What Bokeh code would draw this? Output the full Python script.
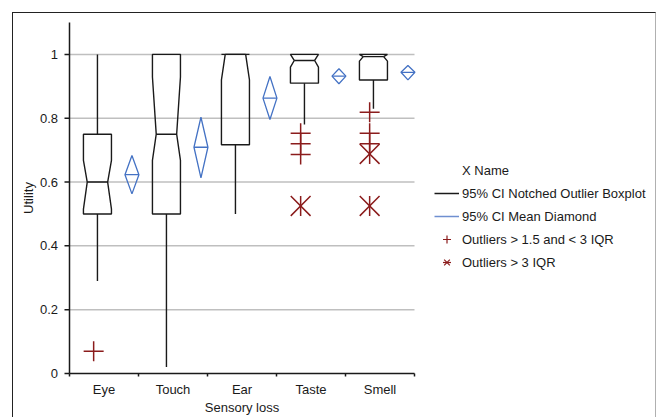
import math
from bokeh.plotting import figure
from bokeh.models import ColumnDataSource, Legend, LegendItem, Range1d
from bokeh.embed import file_html
from bokeh.resources import INLINE

# ---------------- data ----------------
categories = ["Eye", "Touch", "Ear", "Taste", "Smell"]
q1 = [0.50, 0.50, 0.717, 0.91, 0.92]
median = [0.60, 0.75, 1.00, 0.981, 0.993]
q3 = [0.75, 1.00, 1.00, 1.00, 1.00]
notch_lo = [0.515, 0.668, 0.92, 0.96, 0.979]
notch_hi = [0.668, 0.929, 1.00, 1.00, 1.00]
whisker_lo = [0.29, 0.02, 0.50, 0.78, 0.83]
whisker_hi = [1.00, 1.00, 1.00, 1.00, 1.00]
mean = [0.623, 0.709, 0.863, 0.932, 0.944]
ci_lo = [0.563, 0.613, 0.796, 0.908, 0.920]
ci_hi = [0.683, 0.803, 0.931, 0.955, 0.965]
mild_cat = ["Eye", "Taste", "Taste", "Taste", "Smell", "Smell", "Smell"]
mild_val = [0.07, 0.753, 0.72, 0.686, 0.819, 0.753, 0.72]
extreme_cat = ["Taste", "Smell", "Smell"]
extreme_val = [0.525, 0.688, 0.525]
y_ticks = [0, 0.2, 0.4, 0.6, 0.8, 1.0]
y_tick_labels = ["0", "0.2", "0.4", "0.6", "0.8", "1"]
y_max = 1.1
x_title = "Sensory loss"
y_title = "Utility"
legend_title = "X Name"
legend_labels = ["95% CI Notched Outlier Boxplot", "95% CI Mean Diamond",
                 "Outliers > 1.5 and < 3 IQR", "Outliers > 3 IQR"]

# ---------------- styles / positions ----------------
FONT = "Liberation Sans"
FS = "13px"
BOX_OFF = 0.405      # box centre inside each category slot
DIA_OFF = 0.905      # diamond centre inside each category slot
OUT_OFF = 0.35       # outlier marker centre
BOX_HW = 0.203
NOTCH_HW = 0.148
DIA_HW = 0.101
BLACK = "#1a1a1a"
BLUE = "#4472c4"
RED = "#8b1c1c"
GRID = "#bfbfbf"

# pixel geometry (canvas starts at 13,13 inside the page because of margin+border)
W, H = 644, 405
CANVAS_X0, CANVAS_Y0 = 13, 13
AX_LEFT, AX_RIGHT, AX_ZERO, AX_TOP = 69, 414, 373, 22   # page pixels
n = len(categories)
PX_X = (AX_RIGHT - AX_LEFT) / n
PX_Y = (AX_ZERO - AX_TOP) / y_max
x_start = -(AX_LEFT - CANVAS_X0) / PX_X
x_end = (CANVAS_X0 + W - AX_LEFT) / PX_X
y_start = -(CANVAS_Y0 + H - AX_ZERO) / PX_Y
y_end = (AX_ZERO - CANVAS_Y0) / PX_Y


def dx(px):
    return px / PX_X


def dy(px):
    return px / PX_Y


idx = {c: i for i, c in enumerate(categories)}

p = figure(width=W, height=H, output_backend="svg", toolbar_location=None,
           x_range=Range1d(x_start, x_end), y_range=Range1d(y_start, y_end),
           x_axis_type=None, y_axis_type=None,
           min_border=0)
p.margin = (12, 0, 0, 12)
p.styles = {"border-top": "1px solid #222222", "border-left": "1px solid #222222",
            "border-right": "1px solid #b0b0b0"}
p.outline_line_color = None
p.grid.visible = False
p.background_fill_color = "white"
p.border_fill_color = "white"

# ---------------- grid lines ----------------
gy = [t for t in y_ticks if t > 0]
p.segment([0] * len(gy), gy, [n] * len(gy), gy, line_color=GRID, line_width=1.5)

# ---------------- axes (drawn from tick lists) ----------------
p.segment([0], [0], [0], [y_max], line_color=BLACK, line_width=1.5)
p.segment([0], [0], [n], [0], line_color=BLACK, line_width=1.5)
p.segment([-dx(5)] * len(y_ticks), y_ticks, [0] * len(y_ticks), y_ticks,
          line_color=BLACK, line_width=1.5)
xb = list(range(n + 1))
p.segment(xb, [0] * len(xb), xb, [-dy(3)] * len(xb), line_color=BLACK, line_width=1.5)
p.text([-dx(11.5)] * len(y_ticks), y_ticks, text=y_tick_labels, text_align="right",
       text_baseline="middle", text_font={"value": FONT}, text_font_size=FS,
       text_color=BLACK)
p.text([i + 0.5 for i in range(n)], [-dy(16)] * n, text=categories, text_align="center",
       text_baseline="middle", text_font={"value": FONT}, text_font_size=FS,
       text_color=BLACK)
p.text([n / 2], [-dy(34)], text=[x_title], text_align="center", text_baseline="middle",
       text_font={"value": FONT}, text_font_size=FS, text_color=BLACK)
p.text([-dx(41)], [y_max / 2], text=[y_title], angle=math.pi / 2, text_align="center",
       text_baseline="middle", text_font={"value": FONT}, text_font_size=FS,
       text_color=BLACK)

# ---------------- notched boxes ----------------
box_xs, box_ys = [], []
med_x0, med_x1, med_y = [], [], []
wx, wy0, wy1 = [], [], []
for i in range(n):
    xc = i + BOX_OFF
    box_xs.append([xc - BOX_HW, xc - BOX_HW, xc - NOTCH_HW, xc - BOX_HW, xc - BOX_HW,
                   xc + BOX_HW, xc + BOX_HW, xc + NOTCH_HW, xc + BOX_HW, xc + BOX_HW])
    box_ys.append([q1[i], notch_lo[i], median[i], notch_hi[i], q3[i],
                   q3[i], notch_hi[i], median[i], notch_lo[i], q1[i]])
    med_x0.append(xc - NOTCH_HW)
    med_x1.append(xc + NOTCH_HW)
    med_y.append(median[i])
    wx += [xc, xc]
    wy0 += [whisker_lo[i], q3[i]]
    wy1 += [q1[i], whisker_hi[i]]

p.patches(box_xs, box_ys, fill_color=None, line_color=BLACK, line_width=1.4)
p.segment(med_x0, med_y, med_x1, med_y, line_color=BLACK, line_width=1.4)
p.segment(wx, wy0, wx, wy1, line_color=BLACK, line_width=1.4)

# ---------------- mean diamonds ----------------
d_xs, d_ys = [], []
mx0, mx1 = [], []
for i in range(n):
    xc = i + DIA_OFF
    d_xs.append([xc, xc + DIA_HW, xc, xc - DIA_HW])
    d_ys.append([ci_hi[i], mean[i], ci_lo[i], mean[i]])
    mx0.append(xc - DIA_HW)
    mx1.append(xc + DIA_HW)
p.patches(d_xs, d_ys, fill_color=None, line_color=BLUE, line_width=1.3)
p.segment(mx0, mean, mx1, mean, line_color=BLUE, line_width=1.3)

# ---------------- outliers ----------------
mild_src = ColumnDataSource(dict(x=[idx[c] + OUT_OFF for c in mild_cat], y=mild_val))
ext_src = ColumnDataSource(dict(x=[idx[c] + OUT_OFF for c in extreme_cat], y=extreme_val))
p.scatter("x", "y", source=mild_src, marker="cross", size=20, line_color=RED, line_width=1.5)
p.scatter("x", "y", source=ext_src, marker="x", size=28, line_color=RED, line_width=1.5)
p.scatter("x", "y", source=ext_src, marker="dash", angle=math.pi / 2, size=20,
          line_color=RED, line_width=1.5)

# legend proxies (small markers, placed outside the visible range)
proxy = ColumnDataSource(dict(x=[-50], y=[-50]))
lg_title = p.line("x", "y", source=proxy, line_alpha=0)
lg_mild = p.scatter("x", "y", source=proxy, marker="cross", size=7, line_color=RED, line_width=1.2)
lg_ext1 = p.scatter("x", "y", source=proxy, marker="x", size=8, line_color=RED, line_width=1.2)
lg_ext2 = p.scatter("x", "y", source=proxy, marker="dash", angle=math.pi / 2, size=6,
                    line_color=RED, line_width=1.2)
lg_box = p.line("x", "y", source=proxy, line_color=BLACK, line_width=1.5)
lg_dia = p.line("x", "y", source=proxy, line_color="#6f8fd0", line_width=1.5)

legend = Legend(items=[
    LegendItem(label=legend_title, renderers=[lg_title]),
    LegendItem(label=legend_labels[0], renderers=[lg_box]),
    LegendItem(label=legend_labels[1], renderers=[lg_dia]),
    LegendItem(label=legend_labels[2], renderers=[lg_mild]),
    LegendItem(label=legend_labels[3], renderers=[lg_ext1, lg_ext2]),
], location=(421, 146), padding=5, margin=0, spacing=3,
    glyph_width=25, glyph_height=20, label_height=20, label_standoff=3,
    label_text_font=FONT, label_text_font_size=FS, label_text_color=BLACK,
    border_line_color=None, background_fill_alpha=0)
p.add_layout(legend, "center")

open("out.html", "w").write(file_html(p, INLINE))
